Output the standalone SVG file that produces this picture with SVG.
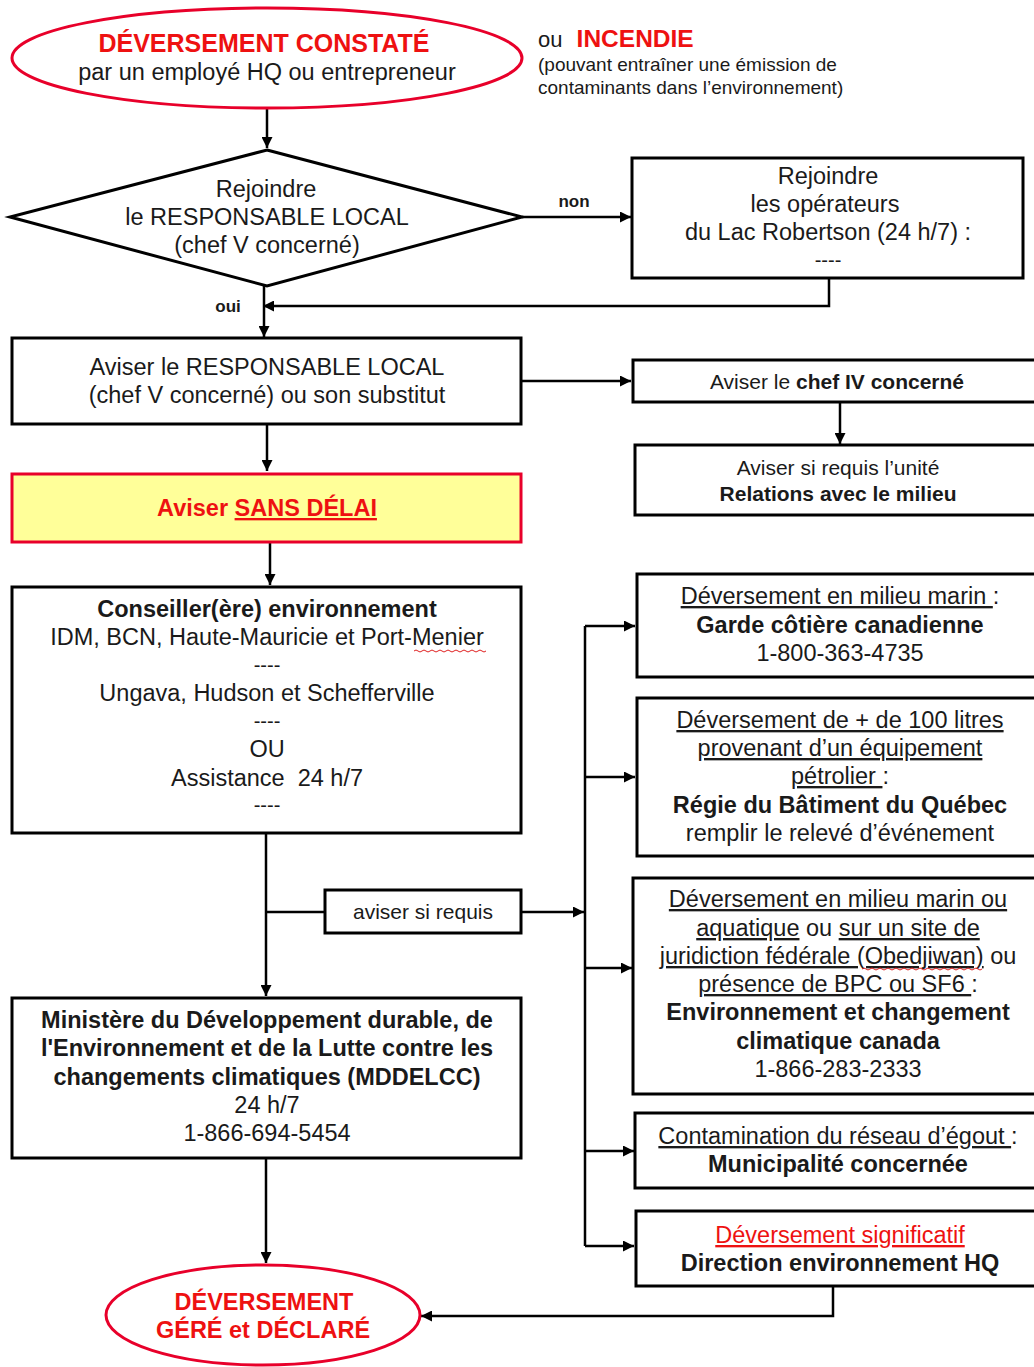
<svg xmlns="http://www.w3.org/2000/svg" width="1034" height="1367" viewBox="0 0 1034 1367">
<defs>
<marker id="arr" viewBox="0 0 10 10" refX="10" refY="5" markerWidth="11" markerHeight="11" markerUnits="userSpaceOnUse" orient="auto">
<path d="M0,0 L10,5 L0,10 z" fill="#000"/>
</marker>
</defs>
<style>
text{font-family:"Liberation Sans",Arial,sans-serif;fill:#1a1a1a;text-anchor:middle;font-size:23.5px}
.b{font-weight:bold}
.r{fill:#ee1111}
.s{font-size:21px}
.box{fill:#fff;stroke:#000;stroke-width:3}
.oval{fill:#fff;stroke:#e8002a;stroke-width:3}
.con{fill:none;stroke:#000;stroke-width:2.5}
.u{text-decoration:underline}
.wave{fill:none;stroke:#e02020;stroke-width:1}
</style>
<rect width="1034" height="1367" fill="#fff"/>

<g id="connectors">
<path class="con" d="M267,108 V148" marker-end="url(#arr)"/>
<path class="con" d="M522,217 H631" marker-end="url(#arr)"/>
<path class="con" d="M829,278 V306 H263" marker-end="url(#arr)"/>
<path class="con" d="M264,286 V337" marker-end="url(#arr)"/>
<path class="con" d="M521,381 H631" marker-end="url(#arr)"/>
<path class="con" d="M840,402 V444" marker-end="url(#arr)"/>
<path class="con" d="M267,424 V471" marker-end="url(#arr)"/>
<path class="con" d="M270,542 V585" marker-end="url(#arr)"/>
<path class="con" d="M266,833 V996" marker-end="url(#arr)"/>
<path class="con" d="M266,912 H325"/>
<path class="con" d="M521,912 H584" marker-end="url(#arr)"/>
<path class="con" d="M585,626 V1246"/>
<path class="con" d="M585,626 H635" marker-end="url(#arr)"/>
<path class="con" d="M585,777 H635" marker-end="url(#arr)"/>
<path class="con" d="M585,968 H632" marker-end="url(#arr)"/>
<path class="con" d="M585,1151 H634" marker-end="url(#arr)"/>
<path class="con" d="M585,1246 H634" marker-end="url(#arr)"/>
<path class="con" d="M266,1158 V1263" marker-end="url(#arr)"/>
<path class="con" d="M833,1286 V1316 H421" marker-end="url(#arr)"/>
<text x="574" y="207" class="b" style="font-size:17px">non</text>
<text x="228" y="312" class="b" style="font-size:17px">oui</text>
</g>

<g id="start">
<ellipse class="oval" cx="267" cy="58" rx="255" ry="50"/>
<text x="264" y="52" class="b r" style="font-size:25px">DÉVERSEMENT CONSTATÉ</text>
<text x="267" y="80">par un employé HQ ou entrepreneur</text>
</g>

<g id="incendie">
<text x="538" y="47" style="text-anchor:start;font-size:22px">ou <tspan class="b r" dx="8" style="font-size:24.5px">INCENDIE</tspan></text>
<text x="538" y="71" style="text-anchor:start;font-size:19px">(pouvant entraîner une émission de</text>
<text x="538" y="94" style="text-anchor:start;font-size:19px">contaminants dans l’environnement)</text>
</g>

<g id="decision">
<polygon class="box" points="267,150 522,217 267,286 10,217"/>
<text x="266" y="197">Rejoindre</text>
<text x="267" y="225">le RESPONSABLE LOCAL</text>
<text x="267" y="253">(chef V concerné)</text>
</g>

<g id="operateurs">
<rect class="box" x="632" y="158" width="391" height="120"/>
<text x="828" y="184">Rejoindre</text>
<text x="825" y="212">les opérateurs</text>
<text x="828" y="240">du Lac Robertson (24 h/7) :</text>
<text x="828" y="267" style="font-size:20px">----</text>
</g>

<g id="aviser-responsable">
<rect class="box" x="12" y="338" width="509" height="86"/>
<text x="267" y="375">Aviser le RESPONSABLE LOCAL</text>
<text x="267" y="403">(chef V concerné) ou son substitut</text>
</g>

<g id="chef-iv">
<rect class="box" x="633" y="360" width="410" height="42"/>
<text x="837" y="389" class="s">Aviser le <tspan class="b">chef IV concerné</tspan></text>
</g>

<g id="relations">
<rect class="box" x="635" y="445" width="410" height="70"/>
<text x="838" y="475" class="s">Aviser si requis l’unité</text>
<text x="838" y="501" class="b s">Relations avec le milieu</text>
</g>

<g id="sans-delai">
<rect x="12" y="474" width="509" height="68" fill="#ffff99" stroke="#e8002a" stroke-width="3"/>
<text x="267" y="516" class="b r">Aviser <tspan class="u">SANS DÉLAI</tspan></text>
</g>

<g id="conseiller">
<rect class="box" x="12" y="587" width="509" height="246"/>
<text x="267" y="617" class="b">Conseiller(ère) environnement</text>
<text x="267" y="645">IDM, BCN, Haute-Mauricie et Port-Menier</text>
<path class="wave" d="M414,651 q2,-2 4,0 t4,0 t4,0 t4,0 t4,0 t4,0 t4,0 t4,0 t4,0 t4,0 t4,0 t4,0 t4,0 t4,0 t4,0 t4,0 t4,0 t4,0"/>
<text x="267" y="672" style="font-size:20px">----</text>
<text x="267" y="701">Ungava, Hudson et Schefferville</text>
<text x="267" y="728" style="font-size:20px">----</text>
<text x="267" y="757">OU</text>
<text x="267" y="786" style="white-space:pre">Assistance  24 h/7</text>
<text x="267" y="812" style="font-size:20px">----</text>
</g>

<g id="aviser-si-requis">
<rect class="box" x="325" y="890" width="196" height="43"/>
<text x="423" y="919" class="s">aviser si requis</text>
</g>

<g id="mddelcc">
<rect class="box" x="12" y="998" width="509" height="160"/>
<text x="267" y="1028" class="b">Ministère du Développement durable, de</text>
<text x="267" y="1056" class="b">l'Environnement et de la Lutte contre les</text>
<text x="267" y="1085" class="b">changements climatiques (MDDELCC)</text>
<text x="267" y="1113">24 h/7</text>
<text x="267" y="1141">1-866-694-5454</text>
</g>

<g id="garde-cotiere">
<rect class="box" x="637" y="574" width="410" height="103"/>
<text x="840" y="604"><tspan class="u">Déversement en milieu marin </tspan>:</text>
<text x="840" y="633" class="b">Garde côtière canadienne</text>
<text x="840" y="661">1-800-363-4735</text>
</g>

<g id="regie">
<rect class="box" x="637" y="698" width="410" height="158"/>
<text x="840" y="728" class="u">Déversement de + de 100 litres</text>
<text x="840" y="756" class="u">provenant d’un équipement</text>
<text x="840" y="784"><tspan class="u">pétrolier </tspan>:</text>
<text x="840" y="813" class="b">Régie du Bâtiment du Québec</text>
<text x="840" y="841">remplir le relevé d’événement</text>
</g>

<g id="eccc">
<rect class="box" x="633" y="878" width="410" height="216"/>
<text x="838" y="907" class="u">Déversement en milieu marin ou</text>
<text x="838" y="936"><tspan class="u">aquatique</tspan> ou <tspan class="u">sur un site de</tspan></text>
<text x="838" y="964"><tspan class="u">juridiction fédérale (Obedjiwan)</tspan> ou</text>
<path class="wave" d="M862,969 q2,-2 4,0 t4,0 t4,0 t4,0 t4,0 t4,0 t4,0 t4,0 t4,0 t4,0 t4,0 t4,0 t4,0 t4,0 t4,0 t4,0 t4,0 t4,0 t4,0 t4,0 t4,0 t4,0 t4,0 t4,0 t4,0 t4,0 t4,0 t4,0 t4,0 t4,0"/>
<text x="838" y="992"><tspan class="u">présence de BPC ou SF6 </tspan>:</text>
<text x="838" y="1020" class="b">Environnement et changement</text>
<text x="838" y="1049" class="b">climatique canada</text>
<text x="838" y="1077">1-866-283-2333</text>
</g>

<g id="municipalite">
<rect class="box" x="635" y="1113" width="410" height="75"/>
<text x="838" y="1144"><tspan class="u">Contamination du réseau d’égout </tspan>:</text>
<text x="838" y="1172" class="b">Municipalité concernée</text>
</g>

<g id="direction-hq">
<rect class="box" x="636" y="1211" width="410" height="75"/>
<text x="840" y="1243" class="r u">Déversement significatif</text>
<text x="840" y="1271" class="b">Direction environnement HQ</text>
</g>

<g id="end">
<ellipse class="oval" cx="263" cy="1315" rx="157" ry="50"/>
<text x="264" y="1310" class="b r">DÉVERSEMENT</text>
<text x="263" y="1338" class="b r">GÉRÉ et DÉCLARÉ</text>
</g>
</svg>
